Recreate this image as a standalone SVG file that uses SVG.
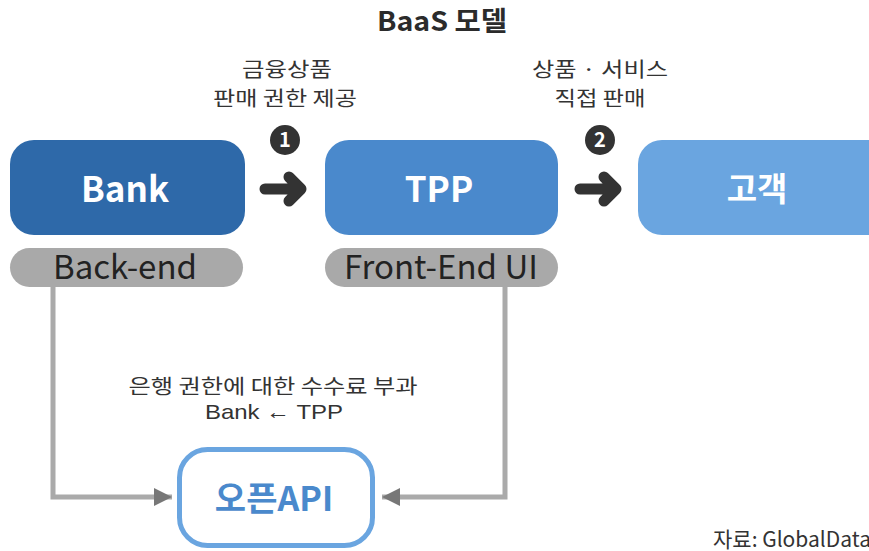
<svg xmlns="http://www.w3.org/2000/svg" width="869" height="551" viewBox="0 0 869 551">
  <style>
    text { font-family: "Noto Sans CJK KR", "Noto Sans", sans-serif; text-anchor: middle; }
    .title { font-size: 27px; font-weight: 700; fill: #2b2b2b; }
    .label { font-size: 20px; fill: #333; }
    .latin { font-family: "Liberation Sans", "Noto Sans CJK KR", sans-serif; font-size: 21px; fill: #333; }
    .node-text { font-size: 35px; font-weight: 700; fill: #fff; }
    .tag { fill: #a9a9a9; }
    .tag-text { font-size: 33px; fill: #222; }
    .link { fill: none; stroke: #aaaaaa; stroke-width: 5; }
    .step { fill: none; stroke: #333; stroke-width: 11; stroke-linecap: round; stroke-linejoin: round; }
    .badge { fill: #333; }
    .badge-text { font-size: 20px; font-weight: 700; fill: #fff; }
  </style>
  <defs>
    <marker id="tri" viewBox="0 0 10 10" refX="10" refY="5" markerWidth="3.6" markerHeight="3.6" orient="auto" markerUnits="strokeWidth">
      <path d="M0,0 L10,5 L0,10 z" fill="#777"/>
    </marker>
  </defs>

  <text class="title" x="442" y="31" textLength="130" lengthAdjust="spacingAndGlyphs">BaaS 모델</text>

  <!-- step captions -->
  <text class="label" x="287" y="77" textLength="90" lengthAdjust="spacingAndGlyphs">금융상품</text>
  <text class="label" x="285" y="106" textLength="144" lengthAdjust="spacingAndGlyphs">판매 권한 제공</text>
  <text class="label" x="600" y="77" textLength="136" lengthAdjust="spacingAndGlyphs">상품 · 서비스</text>
  <text class="label" x="600" y="106" textLength="91" lengthAdjust="spacingAndGlyphs">직접 판매</text>

  <g id="bank">
    <rect x="10" y="140" width="235" height="95" rx="24" fill="#2e69a9"/>
    <text class="node-text" x="125" y="202">Bank</text>
    <rect class="tag" x="10" y="248" width="233" height="39" rx="19.5"/>
    <text class="tag-text" x="125" y="279">Back-end</text>
  </g>

  <g id="tpp">
    <rect x="325" y="140" width="233" height="95" rx="24" fill="#4a89cc"/>
    <text class="node-text" x="439" y="202">TPP</text>
    <rect class="tag" x="325" y="248" width="233" height="39" rx="19.5"/>
    <text class="tag-text" x="441" y="279">Front-End UI</text>
  </g>

  <g id="customer">
    <rect x="638" y="140" width="260" height="95" rx="24" fill="#6aa5e0"/>
    <text x="757" y="201" style="font-size:33px;font-weight:700;fill:#fff">고객</text>
  </g>

  <g id="open-api">
    <rect x="179.5" y="449.5" width="193" height="96" rx="28" fill="#fff" stroke="#6aa5e0" stroke-width="5"/>
    <text x="274" y="511" style="font-size:34px;font-weight:700;fill:#4a89cc">오픈API</text>
  </g>

  <g id="connectors">
    <!-- numbered flow arrows -->
    <path class="step" d="M265,189 H300 M289,177 L301,189 L289,201"/>
    <circle class="badge" cx="285" cy="140" r="15"/>
    <text class="badge-text" x="285" y="147">1</text>
    <path class="step" d="M580,189 H615 M604,177 L616,189 L604,201"/>
    <circle class="badge" cx="600" cy="140" r="15"/>
    <text class="badge-text" x="600" y="147">2</text>

    <!-- API links -->
    <path class="link" d="M53,287 V497 H172" marker-end="url(#tri)"/>
    <path class="link" d="M505,287 V497 H382" marker-end="url(#tri)"/>
  </g>

  <text class="label" x="273" y="394" textLength="289" lengthAdjust="spacingAndGlyphs">은행 권한에 대한 수수료 부과</text>
  <text class="latin" x="274" y="419" textLength="138" lengthAdjust="spacingAndGlyphs">Bank ← TPP</text>

  <text x="713" y="547" style="font-size:21px;fill:#333;text-anchor:start">자료: GlobalData</text>
</svg>
